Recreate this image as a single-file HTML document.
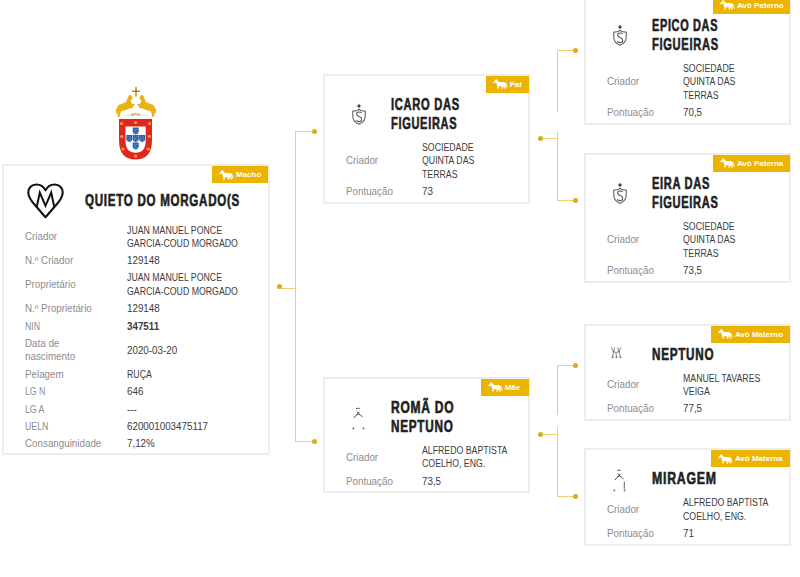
<!DOCTYPE html><html><head><meta charset="utf-8"><style>
html,body{margin:0;padding:0;background:#fff;width:800px;height:577px;overflow:hidden;position:relative}
body{font-family:"Liberation Sans",sans-serif}
.t{position:absolute;white-space:nowrap;transform-origin:0 0}
.card{position:absolute;box-sizing:border-box;border:2px solid #ededed;background:#fff}
.badge{position:absolute;height:17px;background:#ebb400;color:#fff;font-size:8px;font-weight:bold;line-height:17px;white-space:nowrap}
.badge .hs{position:absolute;left:7px;top:3.5px;width:15px;height:10px}
.badge .hs svg{display:block}
.badge .bl{position:absolute;left:24px;top:0}
.ln{position:absolute;background:#edcf72}
.dot{position:absolute;width:5px;height:5px;border-radius:50%;background:#dfaa18}
.ic{position:absolute;overflow:visible}
</style></head><body>
<div class="ln" style="left:279px;top:288px;width:17px;height:1px"></div>
<div class="ln" style="left:295px;top:132px;width:1px;height:310px"></div>
<div class="ln" style="left:295px;top:131px;width:19px;height:1px"></div>
<div class="ln" style="left:295px;top:441px;width:19px;height:1px"></div>
<div class="dot" style="left:276.5px;top:283.5px"></div>
<div class="dot" style="left:311.5px;top:129.0px"></div>
<div class="dot" style="left:311.5px;top:439.0px"></div>
<div class="ln" style="left:540px;top:138px;width:18px;height:1px"></div>
<div class="ln" style="left:557px;top:50px;width:1px;height:62px"></div>
<div class="ln" style="left:557px;top:132px;width:1px;height:69px"></div>
<div class="ln" style="left:557px;top:50px;width:18px;height:1px"></div>
<div class="ln" style="left:557px;top:200px;width:18px;height:1px"></div>
<div class="dot" style="left:537.5px;top:136.3px"></div>
<div class="dot" style="left:572.5px;top:48.3px"></div>
<div class="dot" style="left:572.5px;top:198.0px"></div>
<div class="ln" style="left:540px;top:434px;width:18px;height:1px"></div>
<div class="ln" style="left:557px;top:366px;width:1px;height:49px"></div>
<div class="ln" style="left:557px;top:427px;width:1px;height:70px"></div>
<div class="ln" style="left:557px;top:365px;width:18px;height:1px"></div>
<div class="ln" style="left:557px;top:496px;width:18px;height:1px"></div>
<div class="dot" style="left:537.5px;top:432.0px"></div>
<div class="dot" style="left:572.5px;top:363.3px"></div>
<div class="dot" style="left:572.5px;top:493.8px"></div>
<svg class="ic" style="left:112px;top:82px" width="48" height="80" viewBox="0 0 48 80">
<g fill="#c98f22"><path d="M23.2,4.8 h1.6 v3.6 h3.4 v1.6 h-3.4 v4.4 h-1.6 v-4.4 h-3.4 v-1.6 h3.4 z"/></g>
<circle cx="24" cy="9.2" r="1" fill="#b5501c"/>
<g id="hl" fill="#e9b215"><path d="M17.3,12.8 L19.2,13.4 L20.8,16 L19.8,17.3 L18.8,17.8 L19.2,21.2 L22.6,22.2 L22.6,23.6 L20.8,23.9 L21.2,25.8 L19.8,25.9 L17.6,26.6 L12.2,28.6 L9.4,29 L8.4,31.2 L8,34.8 L5.8,34.8 L5.3,30.6 L4.2,32.2 L3.9,27.5 L6.6,23 L10.8,21.4 L14.4,19.4 L15.8,15.4 Z"/></g>
<g transform="translate(48,0) scale(-1,1)" fill="#e9b215"><path d="M17.3,12.8 L19.2,13.4 L20.8,16 L19.8,17.3 L18.8,17.8 L19.2,21.2 L22.6,22.2 L22.6,23.6 L20.8,23.9 L21.2,25.8 L19.8,25.9 L17.6,26.6 L12.2,28.6 L9.4,29 L8.4,31.2 L8,34.8 L5.8,34.8 L5.3,30.6 L4.2,32.2 L3.9,27.5 L6.6,23 L10.8,21.4 L14.4,19.4 L15.8,15.4 Z"/></g>
<path d="M12,33.5 Q24,31.5 36,33.5" fill="none" stroke="#f1dca0" stroke-width="0.8"/>
<text x="24" y="34" font-size="3.8" font-family="Liberation Sans" font-weight="bold" fill="#c9a24a" text-anchor="middle">APSL</text>
<path d="M7,37 L40,37 L40,58 Q40,77.5 23.5,77.5 Q7,77.5 7,58 Z" fill="#e0261d"/>
<path d="M13.5,44.5 L33.7,44.5 L33.7,58.5 Q33.7,70.8 23.6,70.8 Q13.5,70.8 13.5,58.5 Z" fill="#fff"/>
<g fill="#e8a23a">
<circle cx="9.5" cy="41.5" r="1.6"/><circle cx="23.6" cy="40.5" r="1.6"/><circle cx="37.5" cy="41.5" r="1.6"/>
<circle cx="9.8" cy="54.5" r="1.6"/><circle cx="37.3" cy="54.5" r="1.6"/>
<circle cx="11" cy="67" r="1.6"/><circle cx="36.2" cy="67" r="1.6"/><circle cx="23.6" cy="74" r="1.6"/>
</g>
<g fill="#2a62a8"><path d="M20.7,45.6 h6 v4 q0,2.5 -3,2.9 q-3,-0.4 -3,-2.9 z"/><path d="M14.3,53.1 h6 v4 q0,2.5 -3,2.9 q-3,-0.4 -3,-2.9 z"/><path d="M20.7,53.1 h6 v4 q0,2.5 -3,2.9 q-3,-0.4 -3,-2.9 z"/><path d="M27.1,53.1 h6 v4 q0,2.5 -3,2.9 q-3,-0.4 -3,-2.9 z"/><path d="M20.7,60.6 h6 v4 q0,2.5 -3,2.9 q-3,-0.4 -3,-2.9 z"/></g><g fill="#dfe8f5"><circle cx="22.4" cy="47.4" r="0.45"/><circle cx="25.0" cy="47.4" r="0.45"/><circle cx="23.7" cy="49" r="0.45"/><circle cx="22.4" cy="50.5" r="0.45"/><circle cx="25.0" cy="50.5" r="0.45"/><circle cx="16.0" cy="54.9" r="0.45"/><circle cx="18.6" cy="54.9" r="0.45"/><circle cx="17.3" cy="56.5" r="0.45"/><circle cx="16.0" cy="58.0" r="0.45"/><circle cx="18.6" cy="58.0" r="0.45"/><circle cx="22.4" cy="54.9" r="0.45"/><circle cx="25.0" cy="54.9" r="0.45"/><circle cx="23.7" cy="56.5" r="0.45"/><circle cx="22.4" cy="58.0" r="0.45"/><circle cx="25.0" cy="58.0" r="0.45"/><circle cx="28.8" cy="54.9" r="0.45"/><circle cx="31.400000000000002" cy="54.9" r="0.45"/><circle cx="30.1" cy="56.5" r="0.45"/><circle cx="28.8" cy="58.0" r="0.45"/><circle cx="31.400000000000002" cy="58.0" r="0.45"/><circle cx="22.4" cy="62.4" r="0.45"/><circle cx="25.0" cy="62.4" r="0.45"/><circle cx="23.7" cy="64" r="0.45"/><circle cx="22.4" cy="65.5" r="0.45"/><circle cx="25.0" cy="65.5" r="0.45"/></g>
</svg>
<div class="card" style="left:2px;top:164px;width:268px;height:291px"></div>
<div class="badge" style="left:212px;top:166px;width:56px"><span class="hs"><svg width="15" height="10" viewBox="0 0 15 10"><path fill="#fff" d="M3.2,0 L4.2,0.8 L5.2,2.2 L6.2,3 L10.5,3 L12,3.4 L13.2,4.2 L14.8,8.8 L13.8,8.6 L12.5,5.8 L12.4,7.2 L12.8,9.8 L11.7,9.8 L11,7.6 L10.5,7.4 L9.6,9.8 L8.6,9.8 L8.8,7.2 L6,7.2 L5.3,9.8 L4.3,9.8 L4.4,6.8 L3.8,6 L3.5,4.3 L2.4,3.6 L0.6,4.4 L0.2,3.6 L2.2,1.2 L2.6,0.2 Z"/></svg></span><span class="bl">Macho</span></div>
<svg class="ic" style="left:27px;top:182px" width="37" height="37" viewBox="0 0 37 37">
<path d="M18.5 8.4 C16.5 4.3 12.8 2.5 9.3 2.5 C4.6 2.5 1.3 5.9 1.3 10.5 C1.3 14.8 4 18.6 7.5 22.5 L18.5 35.2 L29.5 22.5 C33 18.6 35.7 14.8 35.7 10.5 C35.7 5.9 32.4 2.5 27.7 2.5 C24.2 2.5 20.5 4.3 18.5 8.4 Z" fill="none" stroke="#111" stroke-width="2.1" stroke-linejoin="round"/>
<path d="M9.8 24.8 L12.8 10.6 L18.5 23.8 L24.2 10.6 L27.2 24.8" fill="none" stroke="#111" stroke-width="2" stroke-linejoin="miter"/>
</svg>
<div class="t" style="left:84.80px;top:193.00px;font-size:16px;line-height:16px;color:#1e1e1e;-webkit-text-stroke:0.6px #1e1e1e;font-weight:bold;letter-spacing:1.0px;transform:scaleX(0.7234);">QUIETO DO MORGADO(S</div>
<div class="t" style="left:126.50px;top:226.00px;font-size:10px;line-height:10px;color:#3c3c3c;transform:scaleX(0.875);">JUAN MANUEL PONCE</div>
<div class="t" style="left:126.50px;top:239.00px;font-size:10px;line-height:10px;color:#3c3c3c;transform:scaleX(0.875);">GARCIA-COUD MORGADO</div>
<div class="t" style="left:24.60px;top:232.00px;font-size:10px;line-height:10px;color:#8c8c8c;transform:scaleX(0.98);">Criador</div>
<div class="t" style="left:126.50px;top:256.00px;font-size:10px;line-height:10px;color:#3c3c3c;transform:scaleX(0.98);">129148</div>
<div class="t" style="left:24.60px;top:256.00px;font-size:10px;line-height:10px;color:#8c8c8c;transform:scaleX(0.98);">N.º Criador</div>
<div class="t" style="left:126.50px;top:273.00px;font-size:10px;line-height:10px;color:#3c3c3c;transform:scaleX(0.875);">JUAN MANUEL PONCE</div>
<div class="t" style="left:126.50px;top:287.00px;font-size:10px;line-height:10px;color:#3c3c3c;transform:scaleX(0.875);">GARCIA-COUD MORGADO</div>
<div class="t" style="left:24.60px;top:280.00px;font-size:10px;line-height:10px;color:#8c8c8c;transform:scaleX(0.98);">Proprietário</div>
<div class="t" style="left:126.50px;top:304.00px;font-size:10px;line-height:10px;color:#3c3c3c;transform:scaleX(0.98);">129148</div>
<div class="t" style="left:24.60px;top:304.00px;font-size:10px;line-height:10px;color:#8c8c8c;transform:scaleX(0.98);">N.º Proprietário</div>
<div class="t" style="left:126.50px;top:322.00px;font-size:10px;line-height:10px;color:#3c3c3c;transform:scaleX(0.98);"><b>347511</b></div>
<div class="t" style="left:24.60px;top:322.00px;font-size:10px;line-height:10px;color:#8c8c8c;transform:scaleX(0.875);">NIN</div>
<div class="t" style="left:126.50px;top:346.00px;font-size:10px;line-height:10px;color:#3c3c3c;transform:scaleX(0.98);">2020-03-20</div>
<div class="t" style="left:24.60px;top:339.00px;font-size:10px;line-height:10px;color:#8c8c8c;transform:scaleX(0.98);">Data de</div>
<div class="t" style="left:24.60px;top:352.00px;font-size:10px;line-height:10px;color:#8c8c8c;transform:scaleX(0.98);">nascimento</div>
<div class="t" style="left:126.50px;top:370.00px;font-size:10px;line-height:10px;color:#3c3c3c;transform:scaleX(0.875);">RUÇA</div>
<div class="t" style="left:24.60px;top:370.00px;font-size:10px;line-height:10px;color:#8c8c8c;transform:scaleX(0.98);">Pelagem</div>
<div class="t" style="left:126.50px;top:387.00px;font-size:10px;line-height:10px;color:#3c3c3c;transform:scaleX(0.98);">646</div>
<div class="t" style="left:24.60px;top:387.00px;font-size:10px;line-height:10px;color:#8c8c8c;transform:scaleX(0.875);">LG N</div>
<div class="t" style="left:126.50px;top:405.00px;font-size:10px;line-height:10px;color:#3c3c3c;transform:scaleX(0.98);">---</div>
<div class="t" style="left:24.60px;top:405.00px;font-size:10px;line-height:10px;color:#8c8c8c;transform:scaleX(0.875);">LG A</div>
<div class="t" style="left:126.50px;top:422.00px;font-size:10px;line-height:10px;color:#3c3c3c;transform:scaleX(0.98);">620001003475117</div>
<div class="t" style="left:24.60px;top:422.00px;font-size:10px;line-height:10px;color:#8c8c8c;transform:scaleX(0.875);">UELN</div>
<div class="t" style="left:126.50px;top:439.00px;font-size:10px;line-height:10px;color:#3c3c3c;transform:scaleX(0.98);">7,12%</div>
<div class="t" style="left:24.60px;top:439.00px;font-size:10px;line-height:10px;color:#8c8c8c;transform:scaleX(0.98);">Consanguinidade</div>
<div class="card" style="left:323px;top:74px;width:207px;height:130px"></div>
<div class="badge" style="left:485.70000000000005px;top:75.5px;width:43px"><span class="hs"><svg width="15" height="10" viewBox="0 0 15 10"><path fill="#fff" d="M3.2,0 L4.2,0.8 L5.2,2.2 L6.2,3 L10.5,3 L12,3.4 L13.2,4.2 L14.8,8.8 L13.8,8.6 L12.5,5.8 L12.4,7.2 L12.8,9.8 L11.7,9.8 L11,7.6 L10.5,7.4 L9.6,9.8 L8.6,9.8 L8.8,7.2 L6,7.2 L5.3,9.8 L4.3,9.8 L4.4,6.8 L3.8,6 L3.5,4.3 L2.4,3.6 L0.6,4.4 L0.2,3.6 L2.2,1.2 L2.6,0.2 Z"/></svg></span><span class="bl">Pai</span></div>
<div class="t" style="left:391.00px;top:97.00px;font-size:16px;line-height:16px;color:#1e1e1e;-webkit-text-stroke:0.6px #1e1e1e;font-weight:bold;letter-spacing:1.0px;transform:scaleX(0.6965);">ICARO DAS</div>
<div class="t" style="left:391.00px;top:116.00px;font-size:16px;line-height:16px;color:#1e1e1e;-webkit-text-stroke:0.6px #1e1e1e;font-weight:bold;letter-spacing:1.0px;transform:scaleX(0.6898);">FIGUEIRAS</div>
<svg class="ic" style="left:350.5px;top:103.275px" width="16" height="22" viewBox="0 0 16 22">
<path d="M8 0.5 L8.8 2.2 L10.5 3 L8.8 3.8 L8 5.5 L7.2 3.8 L5.5 3 L7.2 2.2 Z" fill="#333"/>
<path d="M8 6.2 L9.5 7.4 L14.3 8.2 L14.1 14.5 Q13.6 18.9 8 21.2 Q2.4 18.9 1.9 14.5 L1.7 8.2 L6.5 7.4 Z" fill="none" stroke="#5a5a5a" stroke-width="1.05"/>
<path d="M10.6 10.1 Q9.9 8.9 8.1 8.9 Q5.6 8.9 5.6 11.1 Q5.6 12.7 8.1 13.6 Q10.7 14.5 10.7 16.4 Q10.7 18.6 8 18.6 Q6 18.6 5.2 17.2" fill="none" stroke="#555" stroke-width="1.05"/>
</svg>
<div class="t" style="left:421.80px;top:143.00px;font-size:10px;line-height:10px;color:#3c3c3c;transform:scaleX(0.875);">SOCIEDADE</div>
<div class="t" style="left:421.80px;top:156.00px;font-size:10px;line-height:10px;color:#3c3c3c;transform:scaleX(0.875);">QUINTA DAS</div>
<div class="t" style="left:421.80px;top:170.00px;font-size:10px;line-height:10px;color:#3c3c3c;transform:scaleX(0.875);">TERRAS</div>
<div class="t" style="left:346.20px;top:156.00px;font-size:10px;line-height:10px;color:#8c8c8c;transform:scaleX(0.98);">Criador</div>
<div class="t" style="left:346.20px;top:187.00px;font-size:10px;line-height:10px;color:#8c8c8c;transform:scaleX(0.98);">Pontuação</div>
<div class="t" style="left:421.80px;top:187.00px;font-size:10px;line-height:10px;color:#3c3c3c;transform:scaleX(0.98);">73</div>
<div class="card" style="left:323px;top:377px;width:207px;height:116px"></div>
<div class="badge" style="left:480.70000000000005px;top:378.5px;width:48px"><span class="hs"><svg width="15" height="10" viewBox="0 0 15 10"><path fill="#fff" d="M3.2,0 L4.2,0.8 L5.2,2.2 L6.2,3 L10.5,3 L12,3.4 L13.2,4.2 L14.8,8.8 L13.8,8.6 L12.5,5.8 L12.4,7.2 L12.8,9.8 L11.7,9.8 L11,7.6 L10.5,7.4 L9.6,9.8 L8.6,9.8 L8.8,7.2 L6,7.2 L5.3,9.8 L4.3,9.8 L4.4,6.8 L3.8,6 L3.5,4.3 L2.4,3.6 L0.6,4.4 L0.2,3.6 L2.2,1.2 L2.6,0.2 Z"/></svg></span><span class="bl">Mãe</span></div>
<div class="t" style="left:391.00px;top:400.00px;font-size:16px;line-height:16px;color:#1e1e1e;-webkit-text-stroke:0.6px #1e1e1e;font-weight:bold;letter-spacing:1.0px;transform:scaleX(0.7506);">ROMÃ DO</div>
<div class="t" style="left:391.00px;top:419.00px;font-size:16px;line-height:16px;color:#1e1e1e;-webkit-text-stroke:0.6px #1e1e1e;font-weight:bold;letter-spacing:1.0px;transform:scaleX(0.7333);">NEPTUNO</div>
<svg class="ic" style="left:350.5px;top:405.775px" width="16" height="25" viewBox="0 0 16 25">
<g stroke="#555" stroke-width="1" fill="none"><path d="M5,2.8 Q6.8,1.6 8.6,2.6 M5.6,5.6 L8.6,8.2 M8.6,5.8 L5.8,8.6 M3,12 Q5,8.5 7.2,8 Q10,8.8 11.5,11.2"/></g>
<g fill="#666"><circle cx="2.3" cy="22.4" r="0.9"/><circle cx="12.5" cy="22.4" r="0.9"/></g></svg>
<div class="t" style="left:421.80px;top:446.00px;font-size:10px;line-height:10px;color:#3c3c3c;transform:scaleX(0.875);">ALFREDO BAPTISTA</div>
<div class="t" style="left:421.80px;top:459.00px;font-size:10px;line-height:10px;color:#3c3c3c;transform:scaleX(0.875);">COELHO, ENG.</div>
<div class="t" style="left:346.20px;top:453.00px;font-size:10px;line-height:10px;color:#8c8c8c;transform:scaleX(0.98);">Criador</div>
<div class="t" style="left:346.20px;top:477.00px;font-size:10px;line-height:10px;color:#8c8c8c;transform:scaleX(0.98);">Pontuação</div>
<div class="t" style="left:421.80px;top:477.00px;font-size:10px;line-height:10px;color:#3c3c3c;transform:scaleX(0.98);">73,5</div>
<div class="card" style="left:584px;top:-5px;width:207px;height:130px"></div>
<div class="badge" style="left:712.9000000000001px;top:-3.5px;width:76.8px"><span class="hs"><svg width="15" height="10" viewBox="0 0 15 10"><path fill="#fff" d="M3.2,0 L4.2,0.8 L5.2,2.2 L6.2,3 L10.5,3 L12,3.4 L13.2,4.2 L14.8,8.8 L13.8,8.6 L12.5,5.8 L12.4,7.2 L12.8,9.8 L11.7,9.8 L11,7.6 L10.5,7.4 L9.6,9.8 L8.6,9.8 L8.8,7.2 L6,7.2 L5.3,9.8 L4.3,9.8 L4.4,6.8 L3.8,6 L3.5,4.3 L2.4,3.6 L0.6,4.4 L0.2,3.6 L2.2,1.2 L2.6,0.2 Z"/></svg></span><span class="bl">Avô Paterno</span></div>
<div class="t" style="left:652.00px;top:18.00px;font-size:16px;line-height:16px;color:#1e1e1e;-webkit-text-stroke:0.6px #1e1e1e;font-weight:bold;letter-spacing:1.0px;transform:scaleX(0.6813);">EPICO DAS</div>
<div class="t" style="left:652.00px;top:37.00px;font-size:16px;line-height:16px;color:#1e1e1e;-webkit-text-stroke:0.6px #1e1e1e;font-weight:bold;letter-spacing:1.0px;transform:scaleX(0.6950);">FIGUEIRAS</div>
<svg class="ic" style="left:611.5px;top:24.275px" width="16" height="22" viewBox="0 0 16 22">
<path d="M8 0.5 L8.8 2.2 L10.5 3 L8.8 3.8 L8 5.5 L7.2 3.8 L5.5 3 L7.2 2.2 Z" fill="#333"/>
<path d="M8 6.2 L9.5 7.4 L14.3 8.2 L14.1 14.5 Q13.6 18.9 8 21.2 Q2.4 18.9 1.9 14.5 L1.7 8.2 L6.5 7.4 Z" fill="none" stroke="#5a5a5a" stroke-width="1.05"/>
<path d="M10.6 10.1 Q9.9 8.9 8.1 8.9 Q5.6 8.9 5.6 11.1 Q5.6 12.7 8.1 13.6 Q10.7 14.5 10.7 16.4 Q10.7 18.6 8 18.6 Q6 18.6 5.2 17.2" fill="none" stroke="#555" stroke-width="1.05"/>
</svg>
<div class="t" style="left:682.80px;top:64.00px;font-size:10px;line-height:10px;color:#3c3c3c;transform:scaleX(0.875);">SOCIEDADE</div>
<div class="t" style="left:682.80px;top:77.00px;font-size:10px;line-height:10px;color:#3c3c3c;transform:scaleX(0.875);">QUINTA DAS</div>
<div class="t" style="left:682.80px;top:91.00px;font-size:10px;line-height:10px;color:#3c3c3c;transform:scaleX(0.875);">TERRAS</div>
<div class="t" style="left:607.20px;top:77.00px;font-size:10px;line-height:10px;color:#8c8c8c;transform:scaleX(0.98);">Criador</div>
<div class="t" style="left:607.20px;top:108.00px;font-size:10px;line-height:10px;color:#8c8c8c;transform:scaleX(0.98);">Pontuação</div>
<div class="t" style="left:682.80px;top:108.00px;font-size:10px;line-height:10px;color:#3c3c3c;transform:scaleX(0.98);">70,5</div>
<div class="card" style="left:584px;top:153px;width:207px;height:130px"></div>
<div class="badge" style="left:712.9000000000001px;top:154.5px;width:76.8px"><span class="hs"><svg width="15" height="10" viewBox="0 0 15 10"><path fill="#fff" d="M3.2,0 L4.2,0.8 L5.2,2.2 L6.2,3 L10.5,3 L12,3.4 L13.2,4.2 L14.8,8.8 L13.8,8.6 L12.5,5.8 L12.4,7.2 L12.8,9.8 L11.7,9.8 L11,7.6 L10.5,7.4 L9.6,9.8 L8.6,9.8 L8.8,7.2 L6,7.2 L5.3,9.8 L4.3,9.8 L4.4,6.8 L3.8,6 L3.5,4.3 L2.4,3.6 L0.6,4.4 L0.2,3.6 L2.2,1.2 L2.6,0.2 Z"/></svg></span><span class="bl">Avó Paterna</span></div>
<div class="t" style="left:652.00px;top:176.00px;font-size:16px;line-height:16px;color:#1e1e1e;-webkit-text-stroke:0.6px #1e1e1e;font-weight:bold;letter-spacing:1.0px;transform:scaleX(0.6928);">EIRA DAS</div>
<div class="t" style="left:652.00px;top:195.00px;font-size:16px;line-height:16px;color:#1e1e1e;-webkit-text-stroke:0.6px #1e1e1e;font-weight:bold;letter-spacing:1.0px;transform:scaleX(0.6929);">FIGUEIRAS</div>
<svg class="ic" style="left:611.5px;top:182.275px" width="16" height="22" viewBox="0 0 16 22">
<path d="M8 0.5 L8.8 2.2 L10.5 3 L8.8 3.8 L8 5.5 L7.2 3.8 L5.5 3 L7.2 2.2 Z" fill="#333"/>
<path d="M8 6.2 L9.5 7.4 L14.3 8.2 L14.1 14.5 Q13.6 18.9 8 21.2 Q2.4 18.9 1.9 14.5 L1.7 8.2 L6.5 7.4 Z" fill="none" stroke="#5a5a5a" stroke-width="1.05"/>
<path d="M10.6 10.1 Q9.9 8.9 8.1 8.9 Q5.6 8.9 5.6 11.1 Q5.6 12.7 8.1 13.6 Q10.7 14.5 10.7 16.4 Q10.7 18.6 8 18.6 Q6 18.6 5.2 17.2" fill="none" stroke="#555" stroke-width="1.05"/>
</svg>
<div class="t" style="left:682.80px;top:222.00px;font-size:10px;line-height:10px;color:#3c3c3c;transform:scaleX(0.875);">SOCIEDADE</div>
<div class="t" style="left:682.80px;top:235.00px;font-size:10px;line-height:10px;color:#3c3c3c;transform:scaleX(0.875);">QUINTA DAS</div>
<div class="t" style="left:682.80px;top:249.00px;font-size:10px;line-height:10px;color:#3c3c3c;transform:scaleX(0.875);">TERRAS</div>
<div class="t" style="left:607.20px;top:235.00px;font-size:10px;line-height:10px;color:#8c8c8c;transform:scaleX(0.98);">Criador</div>
<div class="t" style="left:607.20px;top:266.00px;font-size:10px;line-height:10px;color:#8c8c8c;transform:scaleX(0.98);">Pontuação</div>
<div class="t" style="left:682.80px;top:266.00px;font-size:10px;line-height:10px;color:#3c3c3c;transform:scaleX(0.98);">73,5</div>
<div class="card" style="left:584px;top:324px;width:207px;height:97px"></div>
<div class="badge" style="left:710.9000000000001px;top:325.5px;width:78.8px"><span class="hs"><svg width="15" height="10" viewBox="0 0 15 10"><path fill="#fff" d="M3.2,0 L4.2,0.8 L5.2,2.2 L6.2,3 L10.5,3 L12,3.4 L13.2,4.2 L14.8,8.8 L13.8,8.6 L12.5,5.8 L12.4,7.2 L12.8,9.8 L11.7,9.8 L11,7.6 L10.5,7.4 L9.6,9.8 L8.6,9.8 L8.8,7.2 L6,7.2 L5.3,9.8 L4.3,9.8 L4.4,6.8 L3.8,6 L3.5,4.3 L2.4,3.6 L0.6,4.4 L0.2,3.6 L2.2,1.2 L2.6,0.2 Z"/></svg></span><span class="bl">Avô Materno</span></div>
<div class="t" style="left:652.00px;top:347.00px;font-size:16px;line-height:16px;color:#1e1e1e;-webkit-text-stroke:0.6px #1e1e1e;font-weight:bold;letter-spacing:1.0px;transform:scaleX(0.7298);">NEPTUNO</div>
<svg class="ic" style="left:610.5px;top:346.2px" width="16" height="16" viewBox="0 0 16 16">
<g stroke="#858585" stroke-width="1" fill="none" stroke-linecap="round"><path d="M0.4,1.7 L2.5,5.4 L3.7,1.9 M6.7,1.9 L7.9,5.4 L9.9,1.7 M2.5,5.4 L5,6.6 L7.9,5.4 M2.5,5.4 L1.6,11.4 M5,6.6 L5.5,11.4 M7.9,5.4 L9.5,11.4"/></g>
<g fill="#777"><circle cx="1.6" cy="11.3" r="1"/><circle cx="5.5" cy="11.3" r="1"/><circle cx="9.5" cy="11.3" r="1"/><circle cx="2.5" cy="5.4" r="0.9"/><circle cx="7.9" cy="5.4" r="0.9"/></g></svg>
<div class="t" style="left:682.80px;top:374.00px;font-size:10px;line-height:10px;color:#3c3c3c;transform:scaleX(0.875);">MANUEL TAVARES</div>
<div class="t" style="left:682.80px;top:387.00px;font-size:10px;line-height:10px;color:#3c3c3c;transform:scaleX(0.875);">VEIGA</div>
<div class="t" style="left:607.20px;top:380.00px;font-size:10px;line-height:10px;color:#8c8c8c;transform:scaleX(0.98);">Criador</div>
<div class="t" style="left:607.20px;top:404.00px;font-size:10px;line-height:10px;color:#8c8c8c;transform:scaleX(0.98);">Pontuação</div>
<div class="t" style="left:682.80px;top:404.00px;font-size:10px;line-height:10px;color:#3c3c3c;transform:scaleX(0.98);">77,5</div>
<div class="card" style="left:584px;top:448px;width:207px;height:98px"></div>
<div class="badge" style="left:710.9000000000001px;top:450.0px;width:78.8px"><span class="hs"><svg width="15" height="10" viewBox="0 0 15 10"><path fill="#fff" d="M3.2,0 L4.2,0.8 L5.2,2.2 L6.2,3 L10.5,3 L12,3.4 L13.2,4.2 L14.8,8.8 L13.8,8.6 L12.5,5.8 L12.4,7.2 L12.8,9.8 L11.7,9.8 L11,7.6 L10.5,7.4 L9.6,9.8 L8.6,9.8 L8.8,7.2 L6,7.2 L5.3,9.8 L4.3,9.8 L4.4,6.8 L3.8,6 L3.5,4.3 L2.4,3.6 L0.6,4.4 L0.2,3.6 L2.2,1.2 L2.6,0.2 Z"/></svg></span><span class="bl">Avó Materna</span></div>
<div class="t" style="left:652.00px;top:471.00px;font-size:16px;line-height:16px;color:#1e1e1e;-webkit-text-stroke:0.6px #1e1e1e;font-weight:bold;letter-spacing:1.0px;transform:scaleX(0.7684);">MIRAGEM</div>
<svg class="ic" style="left:611.5px;top:467.9px" width="16" height="25" viewBox="0 0 16 25">
<g stroke="#555" stroke-width="1" fill="none"><path d="M5,2.8 Q6.8,1.6 8.6,2.6 M5.6,5.6 L8.6,8.2 M8.6,5.8 L5.8,8.6 M3,12 Q5,8.5 7.2,8 Q10,8.8 11.5,11.2"/></g><path d="M12.3,13.6 L12.3,21" stroke="#666" stroke-width="1" fill="none"/>
<g fill="#666"><circle cx="2.3" cy="22.4" r="0.9"/><circle cx="12.5" cy="22.4" r="0.9"/></g></svg>
<div class="t" style="left:682.80px;top:498.00px;font-size:10px;line-height:10px;color:#3c3c3c;transform:scaleX(0.875);">ALFREDO BAPTISTA</div>
<div class="t" style="left:682.80px;top:512.00px;font-size:10px;line-height:10px;color:#3c3c3c;transform:scaleX(0.875);">COELHO, ENG.</div>
<div class="t" style="left:607.20px;top:505.00px;font-size:10px;line-height:10px;color:#8c8c8c;transform:scaleX(0.98);">Criador</div>
<div class="t" style="left:607.20px;top:529.00px;font-size:10px;line-height:10px;color:#8c8c8c;transform:scaleX(0.98);">Pontuação</div>
<div class="t" style="left:682.80px;top:529.00px;font-size:10px;line-height:10px;color:#3c3c3c;transform:scaleX(0.98);">71</div>
</body></html>
